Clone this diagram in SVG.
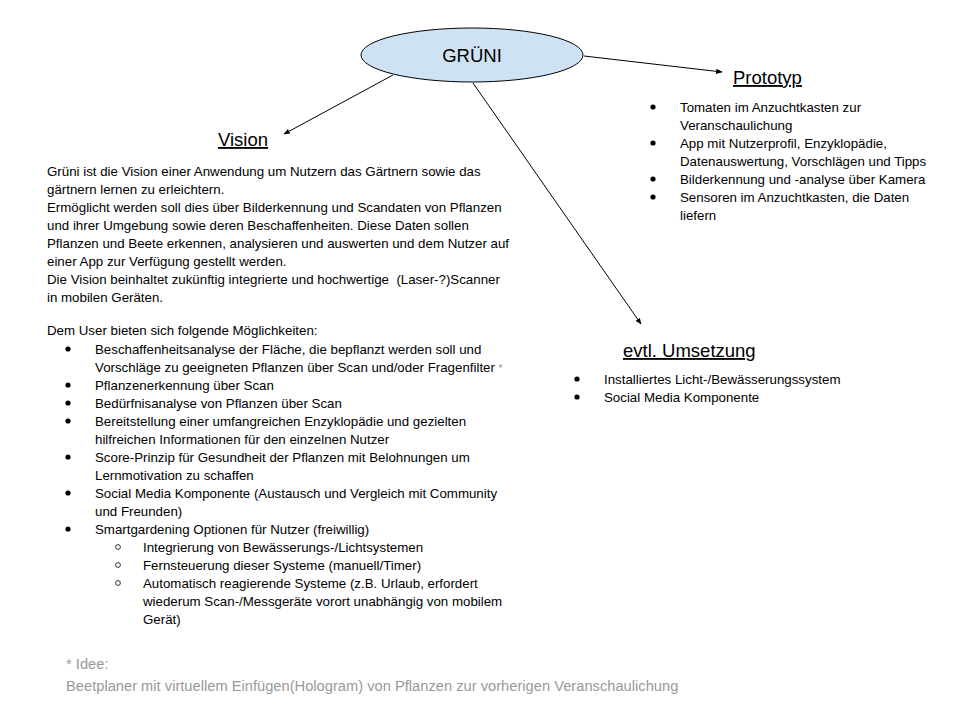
<svg xmlns="http://www.w3.org/2000/svg" width="960" height="720" viewBox="0 0 960 720">
<style>
text{font-family:"Liberation Sans",Arial,sans-serif;fill:#000}
.t{font-size:18.5px;text-decoration:underline}
.b{font-size:13.3px}
.g{font-size:14.7px;fill:#999}
.d{fill:#000}
.o{fill:none;stroke:#000;stroke-width:0.8}
.c{stroke:#000;stroke-width:1;fill:none}
</style>
<defs>
<marker id="ah" viewBox="0 0 10 10" refX="9" refY="5" markerWidth="6.5" markerHeight="6.5" markerUnits="userSpaceOnUse" orient="auto">
<path d="M0,1 L10,5 L0,9 Z" fill="#000"/>
</marker>
</defs>
<rect width="960" height="720" fill="#fff"/>
<g id="connectors">
<line class="c" x1="393" y1="75" x2="284" y2="134" marker-end="url(#ah)"/>
<line class="c" x1="584" y1="56" x2="722" y2="72" marker-end="url(#ah)"/>
<line class="c" x1="473" y1="83" x2="641" y2="324" marker-end="url(#ah)"/>
</g>
<g id="gruni">
<ellipse cx="472" cy="55" rx="111" ry="27" fill="#cfe2f3" stroke="#000" stroke-width="1"/>
<text x="472" y="62" font-size="18.5" text-anchor="middle">GRÜNI</text>
</g>
<g id="vision">
<text class="t" x="243" y="146" text-anchor="middle">Vision</text>
<text class="b" x="47" y="176">Grüni ist die Vision einer Anwendung um Nutzern das Gärtnern sowie das</text>
<text class="b" x="47" y="194">gärtnern lernen zu erleichtern.</text>
<text class="b" x="47" y="212">Ermöglicht werden soll dies über Bilderkennung und Scandaten von Pflanzen</text>
<text class="b" x="47" y="230">und ihrer Umgebung sowie deren Beschaffenheiten. Diese Daten sollen</text>
<text class="b" x="47" y="248">Pflanzen und Beete erkennen, analysieren und auswerten und dem Nutzer auf</text>
<text class="b" x="47" y="266">einer App zur Verfügung gestellt werden.</text>
<text class="b" x="47" y="284">Die Vision beinhaltet zukünftig integrierte und hochwertige&#160; (Laser-?)Scanner</text>
<text class="b" x="47" y="302">in mobilen Geräten.</text>
<text class="b" x="47" y="335">Dem User bieten sich folgende Möglichkeiten:</text>
<circle class="d" cx="68" cy="349" r="2.6"/>
<text class="b" x="95" y="354">Beschaffenheitsanalyse der Fläche, die bepflanzt werden soll und</text>
<text class="b" x="95" y="372">Vorschläge zu geeigneten Pflanzen über Scan und/oder Fragenfilter <tspan font-size="10" fill="#999">*</tspan></text>
<circle class="d" cx="68" cy="385" r="2.6"/>
<text class="b" x="95" y="390">Pflanzenerkennung über Scan</text>
<circle class="d" cx="68" cy="403" r="2.6"/>
<text class="b" x="95" y="408">Bedürfnisanalyse von Pflanzen über Scan</text>
<circle class="d" cx="68" cy="421" r="2.6"/>
<text class="b" x="95" y="426">Bereitstellung einer umfangreichen Enzyklopädie und gezielten</text>
<text class="b" x="95" y="444">hilfreichen Informationen für den einzelnen Nutzer</text>
<circle class="d" cx="68" cy="457" r="2.6"/>
<text class="b" x="95" y="462">Score-Prinzip für Gesundheit der Pflanzen mit Belohnungen um</text>
<text class="b" x="95" y="480">Lernmotivation zu schaffen</text>
<circle class="d" cx="68" cy="493" r="2.6"/>
<text class="b" x="95" y="498">Social Media Komponente (Austausch und Vergleich mit Community</text>
<text class="b" x="95" y="516">und Freunden)</text>
<circle class="d" cx="68" cy="529" r="2.6"/>
<text class="b" x="95" y="534">Smartgardening Optionen für Nutzer (freiwillig)</text>
<circle class="o" cx="118" cy="547" r="2.4"/>
<text class="b" x="143" y="552">Integrierung von Bewässerungs-/Lichtsystemen</text>
<circle class="o" cx="118" cy="565" r="2.4"/>
<text class="b" x="143" y="570">Fernsteuerung dieser Systeme (manuell/Timer)</text>
<circle class="o" cx="118" cy="583" r="2.4"/>
<text class="b" x="143" y="588">Automatisch reagierende Systeme (z.B. Urlaub, erfordert</text>
<text class="b" x="143" y="606">wiederum Scan-/Messgeräte vorort unabhängig von mobilem</text>
<text class="b" x="143" y="624">Gerät)</text>
</g>
<g id="footnote">
<text class="g" x="66" y="669">* Idee:</text>
<text class="g" x="66" y="691">Beetplaner mit virtuellem Einfügen(Hologram) von Pflanzen zur vorherigen Veranschaulichung</text>
</g>
<g id="prototyp">
<text class="t" x="733" y="84">Prototyp</text>
<circle class="d" cx="653" cy="107" r="2.6"/>
<text class="b" x="680" y="112">Tomaten im Anzuchtkasten zur</text>
<text class="b" x="680" y="130">Veranschaulichung</text>
<circle class="d" cx="653" cy="143" r="2.6"/>
<text class="b" x="680" y="148">App mit Nutzerprofil, Enzyklopädie,</text>
<text class="b" x="680" y="166">Datenauswertung, Vorschlägen und Tipps</text>
<circle class="d" cx="653" cy="179" r="2.6"/>
<text class="b" x="680" y="184">Bilderkennung und -analyse über Kamera</text>
<circle class="d" cx="653" cy="197" r="2.6"/>
<text class="b" x="680" y="202">Sensoren im Anzuchtkasten, die Daten</text>
<text class="b" x="680" y="220">liefern</text>
</g>
<g id="umsetzung">
<text class="t" x="623" y="357">evtl. Umsetzung</text>
<circle class="d" cx="577" cy="379" r="2.6"/>
<text class="b" x="604" y="384">Installiertes Licht-/Bewässerungssystem</text>
<circle class="d" cx="577" cy="397" r="2.6"/>
<text class="b" x="604" y="402">Social Media Komponente</text>
</g>
</svg>
